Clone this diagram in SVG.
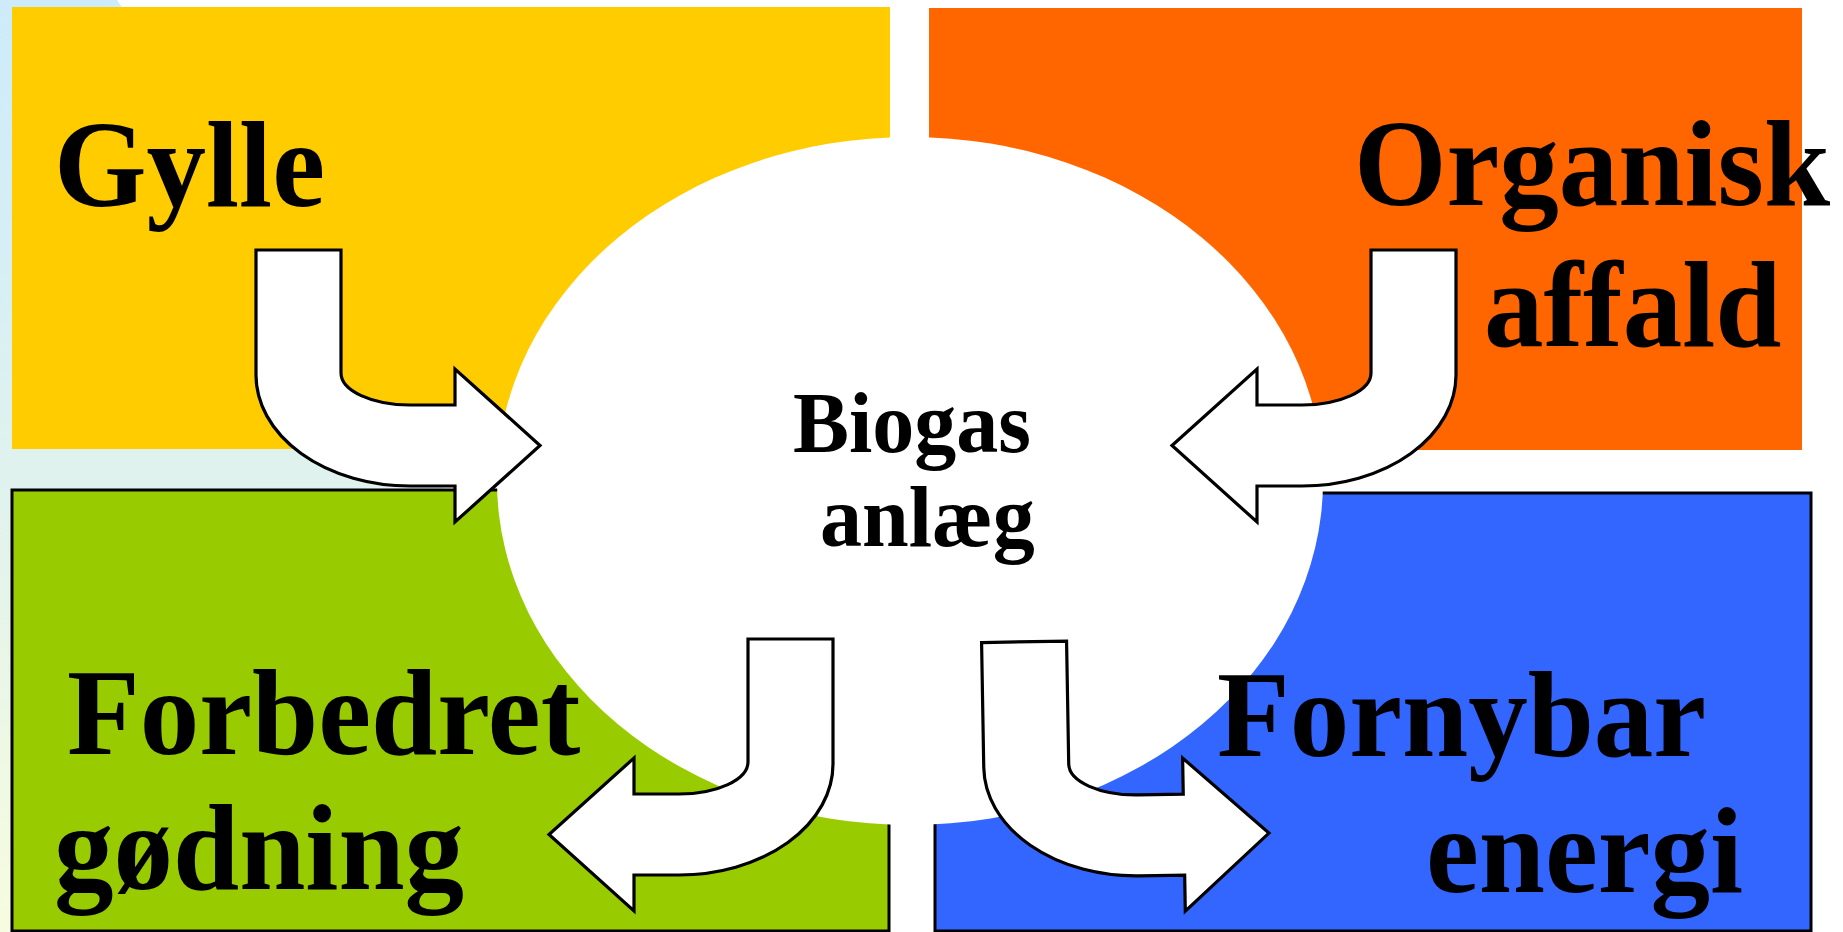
<svg xmlns="http://www.w3.org/2000/svg" width="1843" height="932" viewBox="0 0 1843 932">
  <style>
    .lbl { font-family: "Liberation Serif", "Times New Roman", serif; font-weight: bold; fill: #000; }
    .big { font-size: 119px; }
    .mid { font-size: 84px; }
    .box { stroke: none; }
    .framed { stroke: #000; stroke-width: 3; }
    .arrow { fill: #fff; stroke: #000; stroke-width: 3.2; stroke-linejoin: miter; }
  </style>
  <defs>
    <linearGradient id="bgGrad" x1="0" y1="0" x2="0" y2="1">
      <stop offset="0" stop-color="#CDEBFB"/>
      <stop offset="0.5" stop-color="#DFF2EE"/>
      <stop offset="1" stop-color="#F7FCDF"/>
    </linearGradient>
    <mask id="cut" maskUnits="userSpaceOnUse" x="0" y="0" width="1843" height="932">
      <rect x="0" y="0" width="1843" height="932" fill="#fff"/>
      <ellipse cx="910" cy="481" rx="413" ry="344" fill="#000"/>
    </mask>
    <path id="bent" d="M256,250 H341 V373 A69,32 0 0 0 410,405 H455 V369 L540,445.5 L455,522 V486 H410 A154,111 0 0 1 256,375 Z"/>
  </defs>

  <g id="background">
    <rect x="0" y="0" width="1843" height="932" fill="#fff"/>
    <polygon points="0,0 117,0 740,932 0,932" fill="url(#bgGrad)"/>
  </g>

  <g id="node-biogas">
    <ellipse cx="910" cy="481" rx="413" ry="344" fill="#fff"/>
  </g>

  <g id="node-gylle">
    <rect class="box" x="12" y="7" width="878" height="442" fill="#FFCC00" mask="url(#cut)"/>
    <text class="lbl big" transform="translate(54,206) scale(1,1.04)">Gylle</text>
  </g>

  <g id="node-organisk">
    <rect class="box" x="929" y="8" width="873" height="442" fill="#FF6600" mask="url(#cut)"/>
    <text class="lbl big" transform="translate(1354,205) scale(1,1.04)">Organisk</text>
    <text class="lbl big" transform="translate(1484,346) scale(1,1.04)">affald</text>
  </g>

  <g id="node-forbedret">
    <rect class="framed" x="12" y="490" width="877" height="441" fill="#99CC00" mask="url(#cut)"/>
    <text class="lbl big" transform="translate(67,754) scale(1,1.04)">Forbedret</text>
    <text class="lbl big" transform="translate(54,889) scale(1,1.04)">gødning</text>
  </g>

  <g id="node-fornybar">
    <rect class="framed" x="935" y="493" width="876" height="438" fill="#3366FF" mask="url(#cut)"/>
    <text class="lbl big" transform="translate(1217,756) scale(1,1.04)">Fornybar</text>
    <text class="lbl big" transform="translate(1426,892) scale(1,1.04)">energi</text>
  </g>

  <g id="node-biogas-label">
    <text class="lbl mid" transform="translate(793,452) scale(1,1.04)">Biogas</text>
    <text class="lbl mid" transform="translate(820,546) scale(1,1.04)">anlæg</text>
  </g>

  <g id="connectors">
    <use href="#bent" class="arrow"/>
    <use href="#bent" class="arrow" transform="translate(1712,0) scale(-1,1)"/>
    <use href="#bent" class="arrow" transform="translate(1089,389) scale(-1,1)"/>
    <use href="#bent" class="arrow" transform="rotate(-1 1130 780) translate(728,390)"/>
  </g>
</svg>
